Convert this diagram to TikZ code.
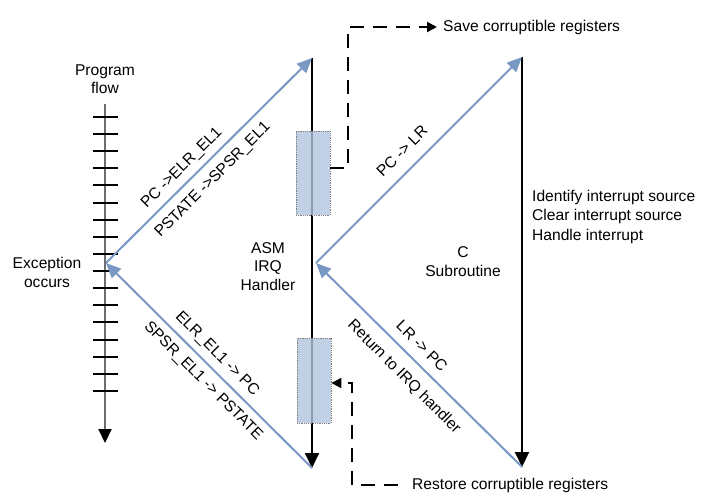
\documentclass[tikz,border=0pt]{standalone}
\usepackage{fontspec}
\setmainfont{Liberation Sans}
\usetikzlibrary{arrows.meta}
\definecolor{flowblue}{RGB}{122,152,196}
\definecolor{boxfill}{RGB}{178,196,221}
\definecolor{axisgray}{RGB}{110,110,110}
\begin{document}
\begin{tikzpicture}[x=1pt,y=-1pt,
  txt/.style={font=\fontsize{15.6}{18.5}\selectfont, inner sep=0pt, align=center},
  bluearrow/.style={draw=flowblue, line width=2pt, -{Triangle[length=15pt,width=13pt]}},
  blackarrow/.style={draw=black, line width=2pt, -{Triangle[length=15pt,width=14pt]}},
  axisline/.style={draw=axisgray, line width=2.2pt, -{Triangle[length=14pt,width=13pt,color=black]}},
  tickmark/.style={draw=black, line width=2pt},
  dashline/.style={draw=black, line width=2pt, dash pattern=on 14pt off 9pt, -{Triangle[length=10pt,width=10pt]}},
  regbox/.style={draw=gray, densely dotted, line width=0.8pt, fill=boxfill, fill opacity=0.8, minimum width=34pt, inner sep=0pt}
]
\useasboundingbox (0,0) rectangle (707,494);

% key points
\coordinate (axtop) at (105,104);
\coordinate (axbot) at (105,443);
\coordinate (exc) at (106,263);
\coordinate (asmtop) at (312,58);
\coordinate (asmbot) at (312,468);
\coordinate (capex) at (316,263);
\coordinate (ctop) at (522,57);
\coordinate (cbot) at (522,467);

% program flow axis
\draw[axisline] (axtop) -- (axbot);
\foreach \k in {0,...,16}
  \draw[tickmark] (93,{117+\k*17.125}) -- (118,{117+\k*17.125});

% ASM handler
\draw[blackarrow] (asmtop) -- (asmbot);
\draw[bluearrow] (exc) -- (asmtop);
\draw[bluearrow] (asmbot) -- (exc);

% C subroutine
\draw[blackarrow] (ctop) -- (cbot);
\draw[bluearrow] (capex) -- (ctop);
\draw[bluearrow] (cbot) -- (capex);

% register boxes
\node[regbox, minimum height=84pt] (savebox) at (313,173) {};
\node[regbox, minimum height=85pt] (restbox) at (314,380.5) {};

% save / restore texts and dashed connectors
\node[txt, anchor=west] (savetxt) at (443,27) {Save corruptible registers};
\node[txt, anchor=west] (resttxt) at (412,485) {Restore corruptible registers};
\draw[dashline, shorten >=6pt] ([yshift=5pt]savebox.east) -| (348,27) -- (savetxt.west);
\draw[dashline] ([xshift=-14pt]resttxt.west) -| (352,383) -- ([yshift=-2.5pt]restbox.east);

% texts
\node[txt] (pflow) at (105,79) {Program\\flow};
\node[txt] (exctxt) at (47,272.5) {Exception\\occurs};
\node[txt] (asmtxt) at (268,266.5) {ASM\\IRQ\\Handler};
\node[txt] (ctxt) at (463,261.5) {C\\Subroutine};
\node[txt, align=left, anchor=west, font=\fontsize{15.6}{19.5}\selectfont] (ctasks) at (532,216.5)
  {Identify interrupt source\\Clear interrupt source\\Handle interrupt};

% line labels
\node[txt, rotate=45] (l1) at (182,168) {PC ->ELR\_EL1};
\node[txt, rotate=45] (l2) at (213,180) {PSTATE ->SPSR\_EL1};
\node[txt, rotate=-45] (l3) at (217,354) {ELR\_EL1 -> PC};
\node[txt, rotate=-45] (l4) at (203,381) {SPSR\_EL1 -> PSTATE};
\node[txt, rotate=45] (l5) at (402,151) {PC -> LR};
\node[txt, rotate=-45] (l6) at (422,346) {LR -> PC};
\node[txt, rotate=-45] (l7) at (404,377) {Return to IRQ handler};
\end{tikzpicture}
\end{document}
